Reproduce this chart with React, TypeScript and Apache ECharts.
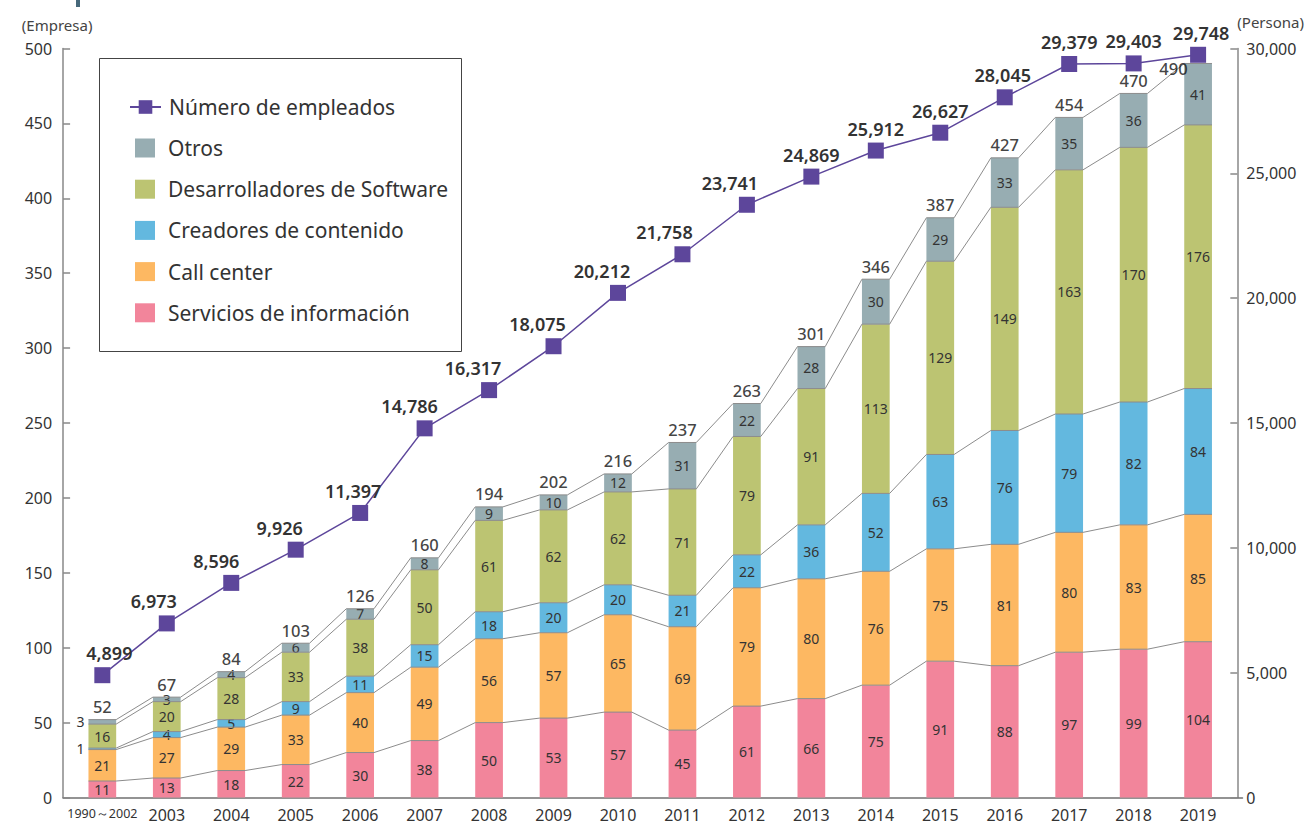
import React, { useEffect, useRef } from "react";
import * as echarts from "echarts";

const categories = ["1990～2002", "2003", "2004", "2005", "2006", "2007", "2008", "2009", "2010", "2011", "2012", "2013", "2014", "2015", "2016", "2017", "2018", "2019"];
const servicios = [11, 13, 18, 22, 30, 38, 50, 53, 57, 45, 61, 66, 75, 91, 88, 97, 99, 104];
const callCenter = [21, 27, 29, 33, 40, 49, 56, 57, 65, 69, 79, 80, 76, 75, 81, 80, 83, 85];
const creadores = [1, 4, 5, 9, 11, 15, 18, 20, 20, 21, 22, 36, 52, 63, 76, 79, 82, 84];
const software = [16, 20, 28, 33, 38, 50, 61, 62, 62, 71, 79, 91, 113, 129, 149, 163, 170, 176];
const otros = [3, 3, 4, 6, 7, 8, 9, 10, 12, 31, 22, 28, 30, 29, 33, 35, 36, 41];
const empleados = [4899, 6973, 8596, 9926, 11397, 14786, 16317, 18075, 20212, 21758, 23741, 24869, 25912, 26627, 28045, 29379, 29403, 29748];

const leftMax = 500;
const leftInterval = 50;
const rightMax = 30000;
const rightInterval = 5000;

// horizontal nudges of the employee labels (label layout, in px)
const lineLabelShift = [7, -13, -15, -16, -7, -15, -16, -16, -16, -18, -17, 0, 0, 0, -2, 0, 0, 3];

const NAMES = {
  line: "Número de empleados",
  otros: "Otros",
  software: "Desarrolladores de Software",
  creadores: "Creadores de contenido",
  call: "Call center",
  serv: "Servicios de información",
};

const COLORS = {
  line: "#5d469b",
  otros: "#97adb2",
  software: "#bcc472",
  creadores: "#63b8df",
  call: "#fdb862",
  serv: "#f2859b",
};

const fmt = (v: number) => String(v).replace(/\B(?=(\d{3})+(?!\d))/g, ",");
const FONT = "'Noto Sans', sans-serif";
const BAR_RATIO = 0.43;

export default function App() {
  const ref = useRef<HTMLDivElement>(null);

  useEffect(() => {
    if (!ref.current) return;
    const chart = echarts.init(ref.current, null, { renderer: "svg" });

    const stacks = [servicios, callCenter, creadores, software, otros];
    const cum = categories.map((_, i) => {
      let s = 0;
      return stacks.map((arr) => (s += arr[i]));
    });
    const totals = cum.map((c) => c[4]);
    const connectData = categories.map((_, i) => [
      i,
      ...cum[i],
      ...(i < categories.length - 1 ? cum[i + 1] : [-1, -1, -1, -1, -1]),
    ]);

    const barLabel = {
      show: true,
      position: "inside",
      color: "#333",
      fontSize: 14,
      fontFamily: FONT,
    };

    const mkBar = (name: string, data: any[], color: string) => ({
      name,
      type: "bar",
      stack: "total",
      barWidth: BAR_RATIO * 100 + "%",
      xAxisIndex: 0,
      yAxisIndex: 0,
      itemStyle: { color },
      label: barLabel,
      data,
      z: 2,
    });

    const sideLabel = { position: "left", distance: 4 };

    const option: any = {
      animation: false,
      textStyle: { fontFamily: FONT },
      grid: [
        { left: 70.1, right: 71.6, top: 48.5, bottom: 26.5 },
        { left: 63, right: 64.5, top: 48.5, bottom: 26.5 },
      ],
      graphic: [
        { type: "rect", shape: { x: 76, y: 0, width: 4, height: 7 }, style: { fill: "#46687a" } },
        { type: "rect", shape: { x: 99.5, y: 58.5, width: 362, height: 293 }, style: { fill: "none", stroke: "#444", lineWidth: 1 }, z: 1 },
      ],
      legend: [
        {
          data: [NAMES.line],
          orient: "vertical",
          left: 124,
          top: 91,
          itemWidth: 31,
          itemHeight: 17,
          selectedMode: false,
          textStyle: { fontSize: 21, color: "#333", lineHeight: 22, padding: [0, 0, 0, 3], fontFamily: FONT },
        },
        {
          data: [
            { name: NAMES.otros, icon: "rect" },
            { name: NAMES.software, icon: "rect" },
            { name: NAMES.creadores, icon: "rect" },
            { name: NAMES.call, icon: "rect" },
            { name: NAMES.serv, icon: "rect" },
          ],
          orient: "vertical",
          left: 130,
          top: 132,
          itemWidth: 20,
          itemHeight: 19,
          itemGap: 19.2,
          selectedMode: false,
          textStyle: { fontSize: 21, color: "#333", lineHeight: 22, padding: [0, 0, 0, 8], fontFamily: FONT },
        },
      ],
      xAxis: [
        {
          type: "category",
          gridIndex: 0,
          data: categories,
          axisLine: { show: false },
          axisTick: { show: false },
          axisLabel: {
            interval: 0,
            margin: 9,
            color: "#333",
            fontSize: 16,
            fontFamily: FONT,
            formatter: (v: string, idx: number) => (idx === 0 ? "{s|" + v + "}" : v),
            rich: { s: { fontSize: 12.5, color: "#333", fontFamily: FONT } },
          },
        },
        {
          type: "value",
          gridIndex: 1,
          min: 0,
          max: 1,
          axisLine: { show: true, lineStyle: { color: "#707070", width: 1.5 } },
          axisTick: { show: false },
          axisLabel: { show: false },
          splitLine: { show: false },
        },
      ],
      yAxis: [
        {
          type: "value",
          gridIndex: 0,
          min: 0,
          max: leftMax,
          interval: leftInterval,
          offset: 7,
          name: "(Empresa)",
          nameLocation: "end",
          nameGap: 16,
          nameTextStyle: { color: "#444", fontSize: 15, fontFamily: FONT, align: "center", padding: [0, 12, 0, 0] },
          axisLine: { show: true, lineStyle: { color: "#888", width: 1.5 } },
          axisTick: { show: true, inside: true, length: 7, lineStyle: { color: "#888", width: 1.5 } },
          axisLabel: { color: "#333", fontSize: 16, margin: 11, fontFamily: FONT },
          splitLine: { show: false },
        },
        {
          type: "value",
          gridIndex: 0,
          position: "right",
          min: 0,
          max: rightMax,
          interval: rightInterval,
          offset: 7,
          name: "(Persona)",
          nameLocation: "end",
          nameGap: 19,
          nameTextStyle: { color: "#444", fontSize: 15, fontFamily: FONT, align: "left", padding: [0, 0, 0, 0] },
          axisLine: { show: true, lineStyle: { color: "#888", width: 1.5 } },
          axisTick: { show: true, inside: true, length: 7, lineStyle: { color: "#888", width: 1.5 } },
          axisLabel: { color: "#333", fontSize: 16, margin: 9, fontFamily: FONT, formatter: (v: number) => fmt(v) },
          splitLine: { show: false },
        },
        { type: "value", gridIndex: 1, show: false, min: 0, max: 1 },
      ],
      series: [
        mkBar(NAMES.serv, servicios, COLORS.serv),
        mkBar(NAMES.call, callCenter, COLORS.call),
        mkBar(
          NAMES.creadores,
          creadores.map((v, i) => (i === 0 ? { value: v, label: sideLabel } : v)),
          COLORS.creadores
        ),
        mkBar(NAMES.software, software, COLORS.software),
        mkBar(
          NAMES.otros,
          otros.map((v, i) => (i === 0 ? { value: v, label: sideLabel } : v)),
          COLORS.otros
        ),
        {
          type: "custom",
          name: "connect",
          xAxisIndex: 0,
          yAxisIndex: 0,
          silent: true,
          z: 3,
          encode: { x: 0, y: [1, 2, 3, 4, 5] },
          data: connectData,
          renderItem: (params: any, api: any) => {
            const i = api.value(0);
            const half = (api.size([1, 0])[0] * BAR_RATIO) / 2;
            const children: any[] = [];
            const style = { stroke: "#8c8c8c", lineWidth: 1, fill: "none" };
            for (let k = 1; k <= 5; k++) {
              const v = api.value(k);
              const p = api.coord([i, v]);
              const pts: number[][] = [
                [p[0] - half, p[1]],
                [p[0] + half, p[1]],
              ];
              const nv = api.value(k + 5);
              if (nv >= 0) {
                const q = api.coord([i + 1, nv]);
                pts.push([q[0] - half, q[1]]);
              }
              children.push({ type: "polyline", shape: { points: pts }, style });
            }
            return { type: "group", children };
          },
        },
        {
          type: "scatter",
          name: "Total",
          xAxisIndex: 0,
          yAxisIndex: 0,
          symbolSize: 1,
          itemStyle: { color: "rgba(0,0,0,0)" },
          silent: true,
          z: 4,
          label: { show: true, position: "top", distance: 4, color: "#111", fontSize: 16.5, fontWeight: 500, fontFamily: FONT },
          data: totals.map((v, i) =>
            i === totals.length - 1
              ? { value: v, label: { position: "left", distance: 10, offset: [0, 5] } }
              : v
          ),
        },
        {
          type: "line",
          name: NAMES.line,
          xAxisIndex: 0,
          yAxisIndex: 1,
          data: empleados.map((v, i) => ({ value: v, label: { offset: [lineLabelShift[i], 0] } })),
          symbol: "rect",
          symbolSize: 16,
          z: 5,
          lineStyle: { color: COLORS.line, width: 1.5 },
          itemStyle: { color: COLORS.line },
          label: {
            show: true,
            position: "top",
            distance: 5,
            color: "#333",
            fontSize: 18,
            fontWeight: 600,
            fontFamily: FONT,
            formatter: (p: any) => fmt(p.value),
          },
        },
      ],
    };

    chart.setOption(option);
    return () => chart.dispose();
  }, []);

  return (
    <div
      ref={ref}
      style={{ position: "fixed", left: 0, top: 0, width: 1307, height: 824, background: "#fff" }}
    />
  );
}
